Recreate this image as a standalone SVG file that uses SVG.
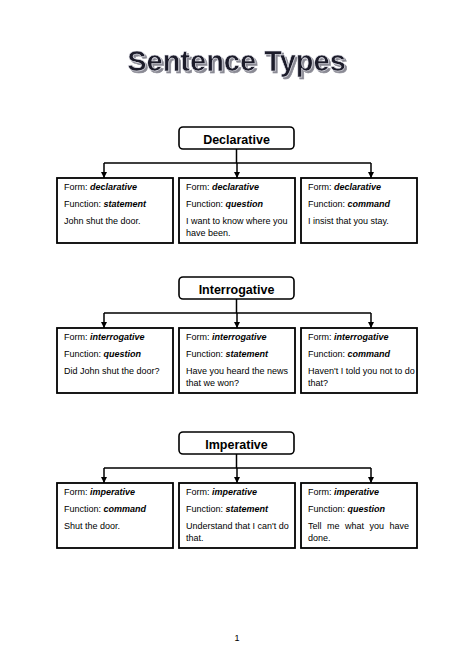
<svg xmlns="http://www.w3.org/2000/svg" width="474" height="670" viewBox="0 0 474 670">
<defs>
<style>
.hdr{fill:#fff;stroke:#000;stroke-width:1.6}
.box{fill:#fff;stroke:#000;stroke-width:1.8}
.ht{font-family:"Liberation Sans",Arial,sans-serif;font-size:12.5px;font-weight:bold;text-anchor:middle;fill:#000}
.t{font-family:"Liberation Sans",Arial,sans-serif;font-size:9px;fill:#000}
.bi{font-weight:bold;font-style:italic}
.con{fill:none;stroke:#000;stroke-width:1.5}
</style>
<filter id="shadow" x="-10%" y="-30%" width="120%" height="160%">
<feOffset in="SourceAlpha" dx="2" dy="2" result="off"/>
<feFlood flood-color="#8a8a94"/>
<feComposite in2="off" operator="in" result="sh"/>
<feMerge><feMergeNode in="sh"/><feMergeNode in="SourceGraphic"/></feMerge>
</filter>
<marker id="ah" viewBox="0 0 10 10" refX="10" refY="5" markerWidth="6" markerHeight="6" markerUnits="userSpaceOnUse" orient="auto">
<path d="M0,0 L10,5 L0,10 z" fill="#000"/>
</marker>
</defs>
<rect width="474" height="670" fill="#fff"/>
<g id="title">
<text x="236.5" y="71" font-family="Liberation Sans,Arial,sans-serif" font-size="29" font-weight="bold" text-anchor="middle" fill="#1c1c2a" stroke="#e8e8f0" stroke-width="0.6" filter="url(#shadow)">Sentence Types</text>
</g>
<g id="connectors">
<path class="con" d="M236.5,149 V163 M104,163 H371"/>
<path class="con" d="M104,163 V178" marker-end="url(#ah)"/>
<path class="con" d="M237,163 V178" marker-end="url(#ah)"/>
<path class="con" d="M371,163 V178" marker-end="url(#ah)"/>
<path class="con" d="M236.5,299 V313 M104,313 H371"/>
<path class="con" d="M104,313 V328" marker-end="url(#ah)"/>
<path class="con" d="M237,313 V328" marker-end="url(#ah)"/>
<path class="con" d="M371,313 V328" marker-end="url(#ah)"/>
<path class="con" d="M236.5,454 V468 M104,468 H371"/>
<path class="con" d="M104,468 V483" marker-end="url(#ah)"/>
<path class="con" d="M237,468 V483" marker-end="url(#ah)"/>
<path class="con" d="M371,468 V483" marker-end="url(#ah)"/>
</g>
<g id="declarative">
<rect class="hdr" x="179" y="127" width="115" height="22" rx="4"/>
<text class="ht" x="236.5" y="143.5">Declarative</text>
</g>
<g id="decl-statement">
<rect class="box" x="57" y="178" width="116" height="65"/>
<text class="t" x="64" y="190">Form: <tspan class="bi">declarative</tspan></text>
<text class="t" x="64" y="207">Function: <tspan class="bi">statement</tspan></text>
<text class="t" x="64" y="224">John shut the door.</text>
</g>
<g id="decl-question">
<rect class="box" x="179" y="178" width="116" height="65"/>
<text class="t" x="186" y="190">Form: <tspan class="bi">declarative</tspan></text>
<text class="t" x="186" y="207">Function: <tspan class="bi">question</tspan></text>
<text class="t" x="186" y="224">I want to know where you</text>
<text class="t" x="186" y="235.5">have been.</text>
</g>
<g id="decl-command">
<rect class="box" x="301" y="178" width="116" height="65"/>
<text class="t" x="308" y="190">Form: <tspan class="bi">declarative</tspan></text>
<text class="t" x="308" y="207">Function: <tspan class="bi">command</tspan></text>
<text class="t" x="308" y="224">I insist that you stay.</text>
</g>
<g id="interrogative">
<rect class="hdr" x="179" y="277" width="115" height="22" rx="4"/>
<text class="ht" x="236.5" y="293.5">Interrogative</text>
</g>
<g id="int-question">
<rect class="box" x="57" y="328" width="116" height="65"/>
<text class="t" x="64" y="340">Form: <tspan class="bi">interrogative</tspan></text>
<text class="t" x="64" y="357">Function: <tspan class="bi">question</tspan></text>
<text class="t" x="64" y="374">Did John shut the door?</text>
</g>
<g id="int-statement">
<rect class="box" x="179" y="328" width="116" height="65"/>
<text class="t" x="186" y="340">Form: <tspan class="bi">interrogative</tspan></text>
<text class="t" x="186" y="357">Function: <tspan class="bi">statement</tspan></text>
<text class="t" x="186" y="374">Have you heard the news</text>
<text class="t" x="186" y="385.5">that we won?</text>
</g>
<g id="int-command">
<rect class="box" x="301" y="328" width="116" height="65"/>
<text class="t" x="308" y="340">Form: <tspan class="bi">interrogative</tspan></text>
<text class="t" x="308" y="357">Function: <tspan class="bi">command</tspan></text>
<text class="t" x="308" y="374">Haven't I told you not to do</text>
<text class="t" x="308" y="385.5">that?</text>
</g>
<g id="imperative">
<rect class="hdr" x="179" y="432" width="115" height="22" rx="4"/>
<text class="ht" x="236.5" y="448.5">Imperative</text>
</g>
<g id="imp-command">
<rect class="box" x="57" y="483" width="116" height="65"/>
<text class="t" x="64" y="495">Form: <tspan class="bi">imperative</tspan></text>
<text class="t" x="64" y="512">Function: <tspan class="bi">command</tspan></text>
<text class="t" x="64" y="529">Shut the door.</text>
</g>
<g id="imp-statement">
<rect class="box" x="179" y="483" width="116" height="65"/>
<text class="t" x="186" y="495">Form: <tspan class="bi">imperative</tspan></text>
<text class="t" x="186" y="512">Function: <tspan class="bi">statement</tspan></text>
<text class="t" x="186" y="529">Understand that I can't do</text>
<text class="t" x="186" y="540.5">that.</text>
</g>
<g id="imp-question">
<rect class="box" x="301" y="483" width="116" height="65"/>
<text class="t" x="308" y="495">Form: <tspan class="bi">imperative</tspan></text>
<text class="t" x="308" y="512">Function: <tspan class="bi">question</tspan></text>
<text class="t" x="308" y="529" word-spacing="3">Tell me what you have</text>
<text class="t" x="308" y="540.5">done.</text>
</g>
<g id="page-number">
<text x="237" y="641" font-family="Liberation Sans,Arial,sans-serif" font-size="9" text-anchor="middle" fill="#000">1</text>
</g>
</svg>
